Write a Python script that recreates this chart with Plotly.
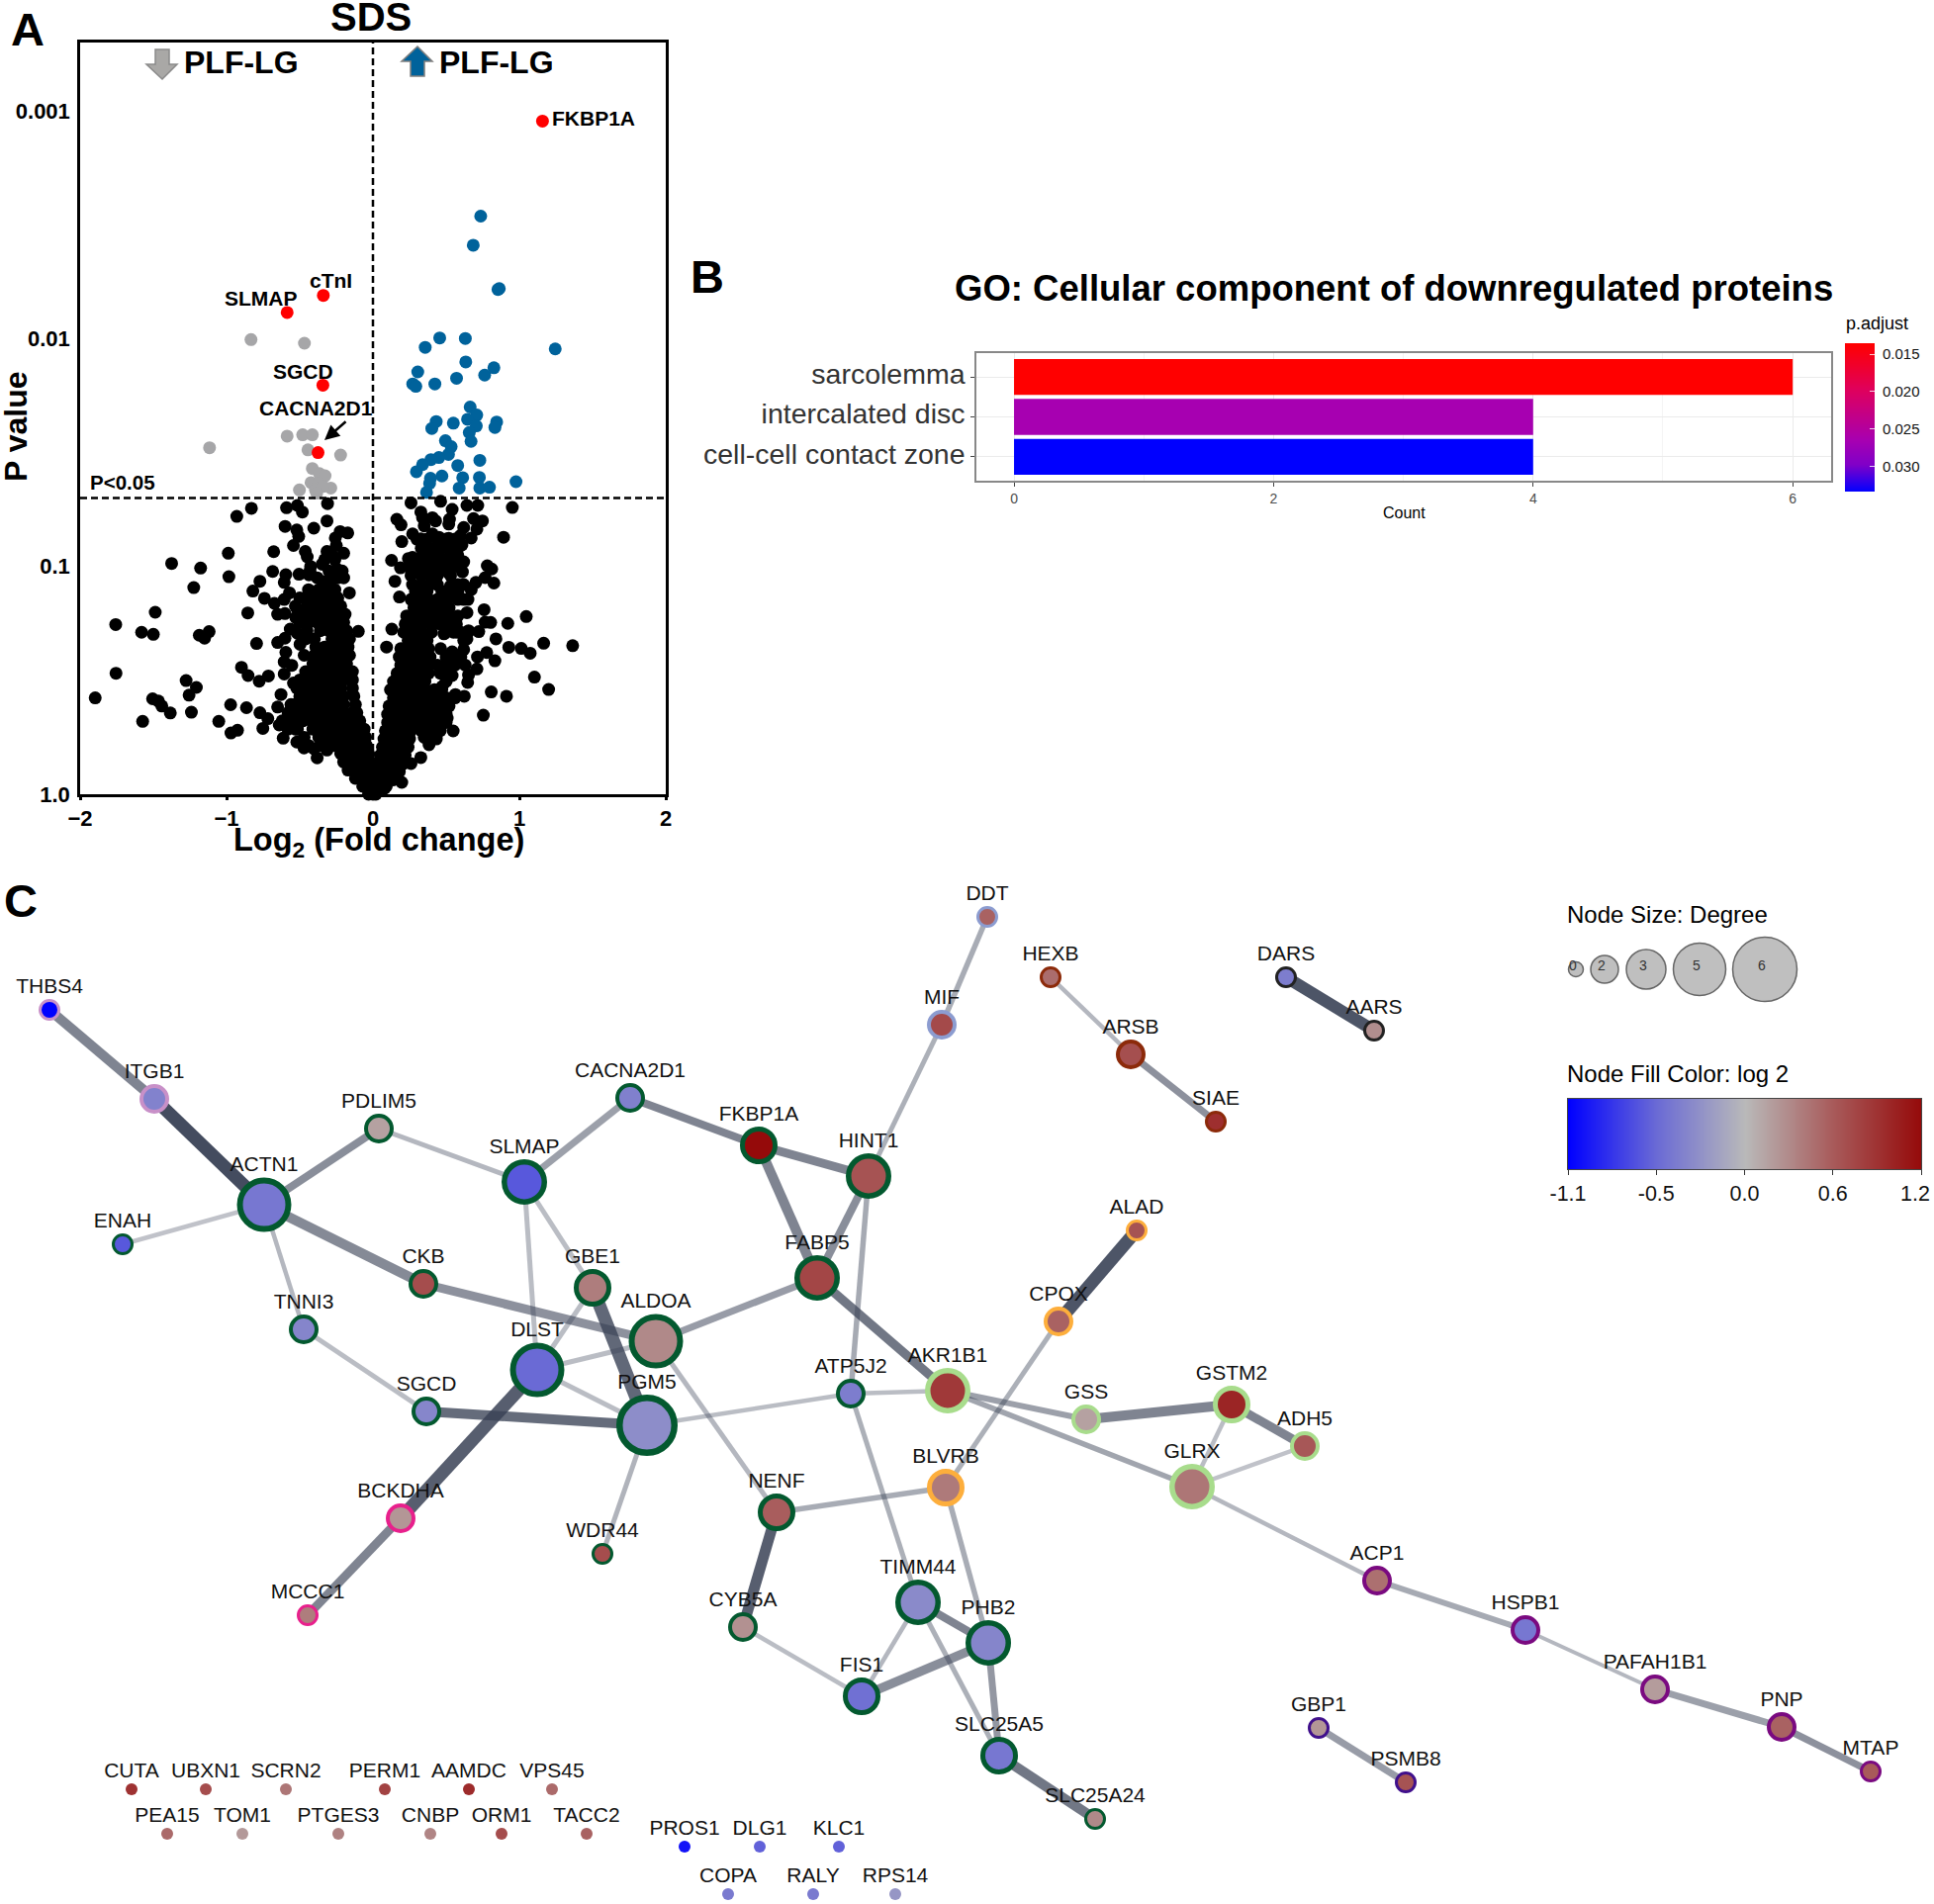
import plotly.graph_objects as go

W, H = 1955, 1925

# ---------- Panel A: volcano (log2 fold change, -log10 P) ----------
black_out_x = [-0.93,-0.83,-0.59,-0.516,-0.482,-0.31,-0.314,-0.404,-0.60,-0.52,-0.507,-0.543,-0.224,-0.172,-0.257,-0.25,-0.314,-0.28,-0.2,-0.462,-0.449,-0.678,-0.988,-1.375,-1.177,-0.984,-1.224,-0.685,-0.595,-0.606,-0.505,-0.437,-0.426,-0.347,-0.246,-0.772,-0.82,-0.57,-0.606,-0.741,-0.673,-0.161,-0.651,-0.601,-0.527,-0.516,-0.855,-1.487,-1.757,-1.58,-1.5,-1.186,-1.119,-1.15,-0.795,-0.651,-0.601,-0.565,-0.516,-0.498,-0.1,-0.595,-0.606,-0.554,-0.606,-0.898,-0.853,-0.777,-0.714,-1.755,-1.276,-1.206,-1.256,-1.897,-1.505,-1.465,-1.442,-1.384,-1.24,-1.573,-0.972,-0.864,-1.053,-0.97,-0.925,-0.752,-0.772,-0.718,-0.651,-0.628,-0.543,-0.64,-0.579,-0.613,-0.516,-0.52,-0.471,-0.404,-0.381,-0.314,
 0.26,0.462,0.541,0.642,0.716,0.952,0.327,0.163,0.192,0.339,0.406,0.428,0.523,0.518,0.35,0.687,0.748,0.71,0.62,0.671,0.597,0.892,0.197,0.271,0.327,0.406,0.451,0.518,0.608,0.496,0.428,0.35,0.327,0.242,0.127,0.188,0.264,0.327,0.489,0.485,0.514,0.579,0.586,0.62,0.611,0.399,0.428,0.15,0.781,0.811,0.766,0.826,0.703,0.671,0.649,0.579,0.53,0.181,0.759,0.642,1.047,0.766,0.804,0.921,0.723,0.653,0.642,0.84,0.575,0.485,0.129,0.093,0.928,1.013,1.074,1.166,1.364,0.833,0.777,0.714,0.71,0.62,0.541,0.541,0.462,0.653,0.647,0.541,1.103,1.2,0.808,0.912,0.624,0.563,0.473,0.754,0.548,0.507,0.433,0.383,0.35,0.327,0.26,0.197,0.091]
black_out_y = [1.22,1.255,1.258,1.268,1.239,1.276,1.2,1.168,1.176,1.16,1.132,1.092,1.153,1.147,1.125,1.092,1.066,1.049,1.058,1.066,1.042,1.065,1.058,1.013,0.993,0.955,0.907,0.978,0.964,0.93,0.966,0.963,1.0,1.01,0.989,0.935,0.892,0.884,0.855,0.86,0.838,0.884,0.79,0.793,0.776,0.812,0.796,0.799,0.745,0.711,0.702,0.698,0.714,0.685,0.662,0.666,0.685,0.725,0.707,0.658,0.715,0.623,0.581,0.566,0.528,0.557,0.521,0.496,0.519,0.531,0.499,0.469,0.435,0.423,0.419,0.409,0.387,0.357,0.36,0.32,0.393,0.38,0.32,0.269,0.281,0.289,0.358,0.332,0.383,0.438,0.488,0.304,0.33,0.246,0.286,0.229,0.203,0.2,0.16,0.194,
 1.279,1.286,1.25,1.268,1.268,1.259,1.239,1.207,1.183,1.214,1.214,1.2,1.207,1.186,1.178,1.21,1.2,1.164,1.171,1.125,1.135,1.128,1.109,1.143,1.121,1.143,1.128,1.124,1.095,1.085,1.07,1.063,1.027,1.035,1.027,0.994,0.974,1.0,1.027,0.999,0.974,1.049,1.013,1.02,0.976,0.977,0.948,0.935,1.003,0.989,0.951,0.927,0.93,0.898,0.855,0.912,0.915,0.866,0.81,0.797,0.78,0.755,0.754,0.75,0.714,0.718,0.682,0.682,0.711,0.704,0.725,0.646,0.645,0.64,0.619,0.663,0.652,0.586,0.622,0.603,0.55,0.635,0.625,0.596,0.639,0.524,0.491,0.521,0.514,0.46,0.449,0.43,0.43,0.438,0.473,0.347,0.278,0.334,0.243,0.217,0.25,0.161,0.135,0.052,0.035]

# dense core of the volcano, read row by row (-log10 P row : fold changes)
core_neg = {1.03:[-.33,-.26],0.98:[-.43,-.30,-.26,-.21],0.95:[-.38,-.24,-.20],0.934:[-.33,-.29],0.898:[-.44,-.37,-.31,-.26],0.862:[-.50,-.46,-.41,-.35,-.29,-.24],0.826:[-.53,-.45,-.39,-.33,-.27,-.22],
 0.79:[-.46,-.41,-.45,-.39,-.33,-.27,-.21,-.19],0.754:[-.50,-.44,-.38,-.32,-.26,-.20],0.718:[-.45,-.36,-.30,-.24,-.18],0.682:[-.46,-.40,-.28,-.22,-.16],
 0.646:[-.39,-.33,-.27,-.21,-.17],0.61:[-.47,-.40,-.34,-.28,-.22,-.16],0.574:[-.41,-.35,-.29,-.23,-.18],0.538:[-.46,-.43,-.37,-.31,-.25,-.19,-.14],
 0.502:[-.50,-.44,-.38,-.32,-.26,-.20,-.14],0.466:[-.52,-.46,-.40,-.34,-.28,-.22,-.14],0.43:[-.50,-.44,-.38,-.32,-.26,-.20,-.13],
 0.394:[-.56,-.53,-.50,-.44,-.38,-.32,-.26,-.20,-.12],0.358:[-.58,-.54,-.50,-.44,-.38,-.32,-.26,-.20,-.14,-.11],0.322:[-.62,-.54,-.48,-.42,-.36,-.30,-.24,-.18,-.12,-.09],
 0.286:[-.58,-.53,-.41,-.35,-.29,-.23,-.17,-.11,-.06],0.25:[-.47,-.37,-.31,-.25,-.19,-.13,-.07,-.05],0.214:[-.44,-.36,-.33,-.27,-.21,-.15,-.09,-.045],
 0.178:[-.22,-.16,-.10,-.05,-.03],0.142:[-.20,-.15,-.10,-.05,-.02],0.106:[-.17,-.12,-.07,-.02],0.07:[-.12,-.07,-.03],0.035:[-.07,-.03],0.0:[-.03,0.0]}
core_pos = {1.12:[.30,.37,.44,.50,.56],1.08:[.33,.39,.45,.52,.58],1.04:[.27,.33,.39,.46,.52],1.0:[.25,.31,.38,.44,.50,.55],0.96:[.26,.33,.39,.44,.53],0.92:[.27,.33,.39,.44,.58,.62],
 0.891:[.29,.34,.37,.47,.53,.58],0.855:[.26,.32,.38,.44,.51,.58,.62],0.819:[.28,.34,.40,.46,.52],0.783:[.23,.29,.35,.41,.47,.53,.58],
 0.747:[.22,.28,.34,.40,.46,.52,.57],0.711:[.21,.27,.33,.40,.50,.55,.60,.65],0.675:[.24,.30,.37,.62],0.639:[.19,.25,.31,.38],0.603:[.18,.24,.30,.36,.39,.50,.55,.60],
 0.567:[.19,.25,.31,.37,.44,.50,.56,.63],0.531:[.165,.22,.28,.34,.38,.46,.52],0.495:[.14,.20,.26,.32,.355,.50],0.459:[.12,.18,.24,.30,.36,.42,.47],
 0.423:[.14,.20,.26,.32,.38,.44,.50,.56],0.387:[.11,.17,.23,.29,.35,.41,.47,.52],0.351:[.10,.16,.22,.28,.34,.40,.46,.50],
 0.315:[.10,.16,.22,.28,.34,.39,.45,.50],0.279:[.085,.14,.20,.26,.33,.40,.46],0.243:[.075,.13,.19,.25],0.207:[.065,.12,.18,.24],0.171:[.05,.10,.16,.22],
 0.135:[.04,.09,.15,.21],0.099:[.03,.08,.13,.18],0.063:[.0,.04,.09,.14],0.027:[.0,.04,.08],0.0:[.02]}

blue_x = [0.736,0.685,0.854,0.863,0.456,0.631,0.357,1.245,0.634,0.306,0.826,0.763,0.571,0.423,0.272,0.293,0.664,0.709,0.646,0.432,0.549,0.845,0.833,0.706,0.402,0.658,0.495,0.67,0.534,0.516,0.45,0.396,0.73,0.339,0.579,0.297,0.471,0.393,0.613,0.727,0.977,0.387,0.589,0.73,0.796,0.366]
blue_y = [2.538,2.41,2.216,2.22,2.003,2.001,1.962,1.955,1.898,1.854,1.872,1.84,1.826,1.801,1.801,1.791,1.7,1.665,1.646,1.636,1.629,1.634,1.61,1.617,1.606,1.588,1.552,1.549,1.526,1.492,1.478,1.469,1.466,1.447,1.443,1.416,1.397,1.387,1.39,1.391,1.372,1.365,1.344,1.344,1.348,1.325]
gray_x = [-0.833,-0.468,-0.586,-0.48,-0.414,-1.116,-0.444,-0.221,-0.414,-0.366,-0.327,-0.423,-0.372,-0.288,-0.502,-0.393,-0.342,-0.384]
gray_y = [1.996,1.98,1.572,1.578,1.578,1.521,1.512,1.489,1.43,1.408,1.398,1.368,1.365,1.344,1.336,1.336,1.351,1.322]
red_names = ["FKBP1A","cTnI","SLMAP","SGCD","CACNA2D1"]
red_x = [1.158,-0.339,-0.586,-0.342,-0.375]
red_y = [2.955,2.19,2.115,1.796,1.50]
p_ticks = [0,1,2,3]
p_labels = ["1.0","0.1","0.01","0.001"]
fc_ticks = [-2,-1,0,1,2]
p_cut = 1.301

# ---------- Panel B: GO bars ----------
go_terms = ["cell-cell contact zone","intercalated disc","sarcolemma"]
go_count = [4,4,6]
go_padj = [0.0333,0.0265,0.01355]
padj_levels = [0.01355,0.01849,0.02343,0.02836,0.0333]
padj_ticks = [0.015,0.020,0.025,0.030]
padj_labels = ["0.015","0.020","0.025","0.030"]

# ---------- Panel C: network (layout coordinates) ----------
node_name = ["THBS4","ITGB1","ACTN1","ENAH","PDLIM5","TNNI3","SLMAP","CKB","CACNA2D1","FKBP1A","HINT1","FABP5","GBE1","ALDOA","DLST","SGCD","PGM5","ATP5J2","AKR1B1","CPOX","ALAD","GSS","GSTM2","ADH5","GLRX","BLVRB","NENF","WDR44","BCKDHA","MCCC1","CYB5A","TIMM44","PHB2","FIS1","SLC25A5","SLC25A24","ACP1","HSPB1","PAFAH1B1","PNP","MTAP","GBP1","PSMB8","DDT","MIF","HEXB","ARSB","SIAE","DARS","AARS",
 "CUTA","UBXN1","SCRN2","PERM1","AAMDC","VPS45","PEA15","TOM1","PTGES3","CNBP","ORM1","TACC2","PROS1","DLG1","KLC1","COPA","RALY","RPS14"]
node_x = [50,156,267,124,383,307,530,428,637,767,878,826,599,663,543,431,654,860,958,1070,1149,1098,1245,1319,1205,956,785,609,405,311,751,928,999,871,1010,1107,1392,1542,1673,1801,1891,1333,1421,998,952,1062,1143,1229,1300,1389,
 133,208,289,389,474,558,169,245,342,435,507,593,692,768,848,736,822,905]
node_y = [1021,1111,1218,1258,1141,1344,1195,1298,1110,1158,1189,1292,1302,1356,1385,1427,1441,1409,1406,1336,1244,1435,1420,1462,1503,1504,1529,1571,1535,1633,1645,1620,1661,1715,1775,1839,1598,1648,1708,1746,1791,1747,1802,927,1036,988,1066,1134,988,1042,
 1809,1809,1809,1809,1809,1809,1854,1854,1854,1854,1854,1854,1867,1867,1867,1915,1915,1915]
node_log2 = [-1.1,-.35,-.42,-.6,.15,-.33,-.6,.7,-.36,1.2,.65,.75,.38,.3,-.5,-.32,-.28,-.38,.85,.55,.65,.15,1.0,.62,.42,.4,.58,.7,.22,.38,.25,-.3,-.33,-.46,-.42,.3,.46,-.42,.18,.55,.6,.22,.65,.55,.72,.48,.68,.92,-.38,.27,
 .9,.7,.42,.78,.95,.5,.5,.2,.35,.33,.7,.55,-1.0,-.55,-.55,-.4,-.4,-.22]
node_degree = [1,2,5,1,2,2,4,2,2,3,4,4,3,5,5,2,6,2,4,2,1,2,3,2,4,3,3,1,2,1,2,4,4,3,3,1,2,2,2,2,1,1,1,1,2,1,2,1,1,1]+[0]*18
node_cluster = ["pink","pink","green","green","green","green","green","green","green","green","green","green","green","green","green","green","green","green","lime","orange","orange","lime","lime","lime","lime","orange","green","green","magenta","magenta","green","green","green","green","green","green","purple","purple","purple","purple","purple","indigo","indigo","periw","periw","brown","brown","brown","ink","ink"]+["none"]*18

edge_a = ["THBS4","ITGB1","ACTN1","ACTN1","PDLIM5","ACTN1","ACTN1","CKB","TNNI3","SGCD","DLST","BCKDHA","SLMAP","SLMAP","SLMAP","GBE1","GBE1","DLST","DLST","PGM5","CACNA2D1","FKBP1A","FKBP1A","HINT1","HINT1","HINT1","MIF","FABP5","FABP5","ALDOA","PGM5","ATP5J2","ATP5J2","AKR1B1","AKR1B1","GSS","GSTM2","GSTM2","ADH5","GLRX","ACP1","HSPB1","PAFAH1B1","PNP","GBP1","HEXB","ARSB","DARS","ALAD","CPOX","BLVRB","BLVRB","NENF","CYB5A","TIMM44","TIMM44","TIMM44","FIS1","PHB2","SLC25A5"]
edge_b = ["ITGB1","ACTN1","PDLIM5","ENAH","SLMAP","TNNI3","CKB","ALDOA","SGCD","PGM5","BCKDHA","MCCC1","CACNA2D1","DLST","GBE1","DLST","PGM5","PGM5","ALDOA","WDR44","FKBP1A","HINT1","FABP5","FABP5","ATP5J2","MIF","DDT","ALDOA","AKR1B1","NENF","ATP5J2","AKR1B1","TIMM44","GSS","GLRX","GSTM2","ADH5","GLRX","GLRX","ACP1","HSPB1","PAFAH1B1","PNP","MTAP","PSMB8","ARSB","SIAE","AARS","CPOX","BLVRB","NENF","PHB2","CYB5A","FIS1","FIS1","PHB2","SLC25A5","PHB2","SLC25A5","SLC25A24"]
edge_width = [10,13,8,4.5,5,4.5,10,9,5,10,13,9,7,5,5,5,13,5,5,5,8,9,10,8,5.5,5,5.5,7,9,5,4.5,4.5,5,6,5.5,10,9,4.5,4.5,4.5,6,4,7,7,7,4.5,7,12,13,5,5.5,5.5,11,4.5,4.5,8,5,9,7,10]
edge_alpha = [.65,.95,.6,.32,.38,.38,.62,.58,.35,.78,.85,.65,.5,.35,.35,.35,.8,.35,.35,.4,.65,.65,.65,.6,.45,.42,.44,.52,.72,.38,.35,.35,.42,.5,.48,.65,.65,.35,.32,.38,.45,.38,.5,.58,.52,.38,.58,.9,.9,.42,.44,.44,.85,.35,.38,.65,.42,.6,.55,.72]

legend_degree = [0,2,3,5,6]
legend_diam = [15,28,40,53,65]
legend_x = [1593,1622,1664,1718,1784]
log2_ticks = [-1.1,-0.5,0.0,0.6,1.2]
log2_pos = [0,1,2,3,4]

# ---------- styles ----------
LIB = "Liberation Sans"
BORDER = dict(pink="#c890c8", green="#03592f", lime="#a8dc8c", orange="#fdae3c", magenta="#e8208c", purple="#7a0a80",
              indigo="#40108c", periw="#8c9cd0", brown="#8c2a0a", ink="#222222", none="rgba(0,0,0,0)")
DIAM = {0:12, 1:22, 2:30, 3:38, 4:46, 5:55, 6:62}
RING = {0:0, 1:3, 2:4, 3:5, 4:5.5, 5:6, 6:6.5}
LOG2_SCALE = [[0,"#0000ff"],[0.261,"#6a6ad5"],[0.478,"#b9b9b9"],[0.739,"#a85a5a"],[1,"#950a0a"]]
PADJ_SCALE = [[0,"#ff0000"],[0.3,"#e0005a"],[0.65,"#a800b0"],[0.82,"#8000c8"],[1,"#0000ff"]]

fig = go.Figure()
def dx(a, b): return [a/W, b/W]
def dy(top, bottom): return [1-bottom/H, 1-top/H]

# --- A ---
bx = list(black_out_x); by = list(black_out_y)
for rows in (core_neg, core_pos):
    for yy, xs in rows.items():
        bx += xs; by += [yy]*len(xs)
for xs, ys, c in ((bx,by,"#000000"),(blue_x,blue_y,"#00629b"),(gray_x,gray_y,"#a6a6a8"),(red_x,red_y,"#ff0000")):
    fig.add_trace(go.Scatter(x=xs, y=ys, mode="markers", xaxis="x", yaxis="y", cliponaxis=False,
                             marker=dict(size=13, color=c, line=dict(width=0)), hoverinfo="skip"))

# --- B ---
fig.add_trace(go.Bar(y=go_terms, x=go_count, orientation="h", xaxis="x2", yaxis="y2", width=0.9,
                     marker=dict(color=go_padj, colorscale=PADJ_SCALE, cmin=padj_levels[0], cmax=padj_levels[-1], line=dict(width=0)),
                     hoverinfo="skip"))
fig.add_trace(go.Heatmap(x=[0,1], y=padj_levels, z=[[v,v] for v in padj_levels], zsmooth="best", xaxis="x4", yaxis="y4",
                         colorscale=PADJ_SCALE, zmin=padj_levels[0], zmax=padj_levels[-1], showscale=False, hoverinfo="skip"))

# --- C edges ---
idx = {n:i for i,n in enumerate(node_name)}
for a,b,wd,al in zip(edge_a, edge_b, edge_width, edge_alpha):
    i,j = idx[a], idx[b]
    fig.add_trace(go.Scatter(x=[node_x[i],node_x[j]], y=[node_y[i],node_y[j]], mode="lines", xaxis="x3", yaxis="y3",
                             line=dict(width=wd, color=f"rgba(58,66,86,{al})"), hoverinfo="skip"))
# --- C nodes ---
fig.add_trace(go.Scatter(x=node_x, y=node_y, mode="markers", xaxis="x3", yaxis="y3", hoverinfo="skip",
    marker=dict(size=[DIAM[d]-RING[d] for d in node_degree], color=node_log2, colorscale=LOG2_SCALE, cmin=-1.1, cmax=1.2, opacity=1,
                line=dict(width=[RING[d] for d in node_degree], color=[BORDER[c] for c in node_cluster]))))
fig.add_trace(go.Scatter(x=node_x, y=[y-(DIAM[d]/2+11.5) for y,d in zip(node_y,node_degree)], text=node_name, mode="text",
    xaxis="x3", yaxis="y3", textposition="middle center", textfont=dict(family=LIB, size=21, color="#111111"), hoverinfo="skip"))
# size legend
fig.add_trace(go.Scatter(x=legend_x, y=[980]*5, mode="markers", xaxis="x3", yaxis="y3", hoverinfo="skip",
    marker=dict(size=legend_diam, color="#bfbfbf", opacity=1, line=dict(width=1.5, color="#666666"))))
fig.add_trace(go.Scatter(x=[v-3 for v in legend_x], y=[977]*5, text=[str(d) for d in legend_degree], mode="text", xaxis="x3", yaxis="y3",
    textfont=dict(family=LIB, size=14, color="#333333"), hoverinfo="skip"))
# colour legend
fig.add_trace(go.Heatmap(x=log2_pos, y=[0,1], z=[log2_ticks, log2_ticks], zsmooth="best", xaxis="x5", yaxis="y5",
    colorscale=LOG2_SCALE, zmin=-1.1, zmax=1.2, showscale=False, hoverinfo="skip"))

def txt(x, y, s, size, bold=True, anchor="center", angle=0, color="#000000"):
    return dict(x=x, y=y, xref="x3", yref="y3", text=f"<b>{s}</b>" if bold else s, showarrow=False, xanchor=anchor, yanchor="middle",
                textangle=angle, font=dict(family=LIB, size=size, color=color))
ann = [
    txt(9,29,"A",47,anchor="left"), txt(696,279,"B",47,anchor="left"), txt(2,910,"C",47,anchor="left"),
    txt(375,17,"SDS",40),
    txt(184,63,"PLF-LG",32,anchor="left"), txt(442,63,"PLF-LG",32,anchor="left"),
    txt(89,487,"P&lt;0.05",20.5,anchor="left"),
    txt(556,119,"FKBP1A",21,anchor="left"), txt(334,283,"cTnI",21), txt(264,301,"SLMAP",21), txt(306,375,"SGCD",21), txt(319,412,"CACNA2D1",21),
    txt(383,851,"Log<sub>2</sub> (Fold change)",32.5),
    txt(16,432,"P value",32,angle=-90),
    txt(1409,291,"GO: Cellular component of downregulated proteins",36.5),
    txt(1419,518,"Count",16,bold=False),
    txt(1864,327,"p.adjust",18,bold=False,anchor="left"),
    txt(1582,924,"Node Size: Degree",24,bold=False,anchor="left"),
    txt(1582,1085,"Node Fill Color: log 2",24,bold=False,anchor="left"),
    txt(1936,1207,"1.2",21.5,bold=False,color="#111"),
    dict(x=328,y=445,ax=351,ay=425,xref="x3",yref="y3",axref="x3",ayref="y3",text="",showarrow=True,arrowhead=2,arrowsize=1.2,arrowwidth=2.5,arrowcolor="#000000"),
]
shapes = [
    dict(type="line",xref="x",yref="y",x0=0,x1=0,y0=0,y1=3.30,layer="below",line=dict(color="#000",width=2.5,dash="7px,4px")),
    dict(type="line",xref="x",yref="y",x0=-2,x1=2,y0=p_cut,y1=p_cut,layer="above",line=dict(color="#000",width=2.5,dash="7px,4px")),
    dict(type="path",xref="x3",yref="y3",path="M157,50 L171,50 L171,65 L179,65 L164,80 L148,65 L157,65 Z",fillcolor="#a9a8a6",line=dict(color="#8a8a8a",width=1.5)),
    dict(type="path",xref="x3",yref="y3",path="M415,77 L429,77 L429,62 L437,62 L422,47 L406,62 L415,62 Z",fillcolor="#00629b",line=dict(color="#7f7f7f",width=1.5)),
]
fig.update_layout(
    width=W, height=H, margin=dict(l=0,r=0,t=0,b=0,autoexpand=False), paper_bgcolor="white", plot_bgcolor="rgba(0,0,0,0)",
    showlegend=False, bargap=0.1, annotations=ann, shapes=shapes,
    xaxis=dict(domain=dx(81,673), range=[-2,2], tickvals=fc_ticks, ticks="outside", ticklen=3, tickwidth=2.5, tickcolor="#000",
               showline=True, linewidth=2.5, linecolor="#000", mirror=True, showgrid=False, zeroline=False,
               tickfont=dict(family=LIB,size=22,weight=700,color="#000"), anchor="y"),
    yaxis=dict(domain=dy(43,803), range=[0,3.30], tickvals=p_ticks, ticktext=p_labels, ticks="outside", ticklen=3, tickcolor="rgba(0,0,0,0)", showline=True, linewidth=2.5,
               linecolor="#000", mirror=True, showgrid=False, zeroline=False, tickfont=dict(family=LIB,size=22,weight=700,color="#000"), anchor="x"),
    xaxis2=dict(domain=dx(987,1851), range=[-0.29,6.296], tickvals=[0,2,4,6], ticks="outside", ticklen=4, tickcolor="#444",
                showline=True, linewidth=1.5, linecolor="#888", mirror=True, gridcolor="#ebebeb", zeroline=False,
                minor=dict(tickvals=[1,3,5], showgrid=True, gridcolor="#f4f4f4", ticks=""),
                tickfont=dict(family=LIB,size=14,color="#4d4d4d"), anchor="y2"),
    yaxis2=dict(domain=dy(357,486), type="category", categoryorder="array", categoryarray=go_terms, range=[-0.6,2.6],
                ticks="outside", ticklen=4, tickcolor="#444", showline=True, linewidth=1.5, linecolor="#888", mirror=True, gridcolor="#ebebeb",
                ticklabelshift=-3, tickfont=dict(family=LIB,size=28.5,color="#333333"), anchor="x2"),
    xaxis3=dict(domain=[0,1], range=[0,W], visible=False, anchor="y3"),
    yaxis3=dict(domain=[0,1], range=[H,0], visible=False, anchor="x3"),
    xaxis4=dict(domain=dx(1865,1895), range=[0,1], visible=False, anchor="y4"),
    yaxis4=dict(domain=dy(347,497), range=[padj_levels[-1],padj_levels[0]], side="right", tickvals=padj_ticks, ticktext=padj_labels,
                ticks="inside", ticklen=5, tickcolor="rgba(255,255,255,0.8)", ticklabelstandoff=7, showgrid=False, zeroline=False, showline=False,
                tickfont=dict(family=LIB,size=15,color="#111"), anchor="x4"),
    xaxis5=dict(domain=dx(1585,1942), range=[0,4], tickvals=log2_pos, ticktext=[f"{v:.1f}" for v in log2_ticks[:-1]]+[""], ticks="outside", ticklen=5,
                tickcolor="#333", showline=True, linecolor="#444", linewidth=1, mirror=True, showgrid=False, zeroline=False,
                tickfont=dict(family=LIB,size=21.5,color="#111"), anchor="y5"),
    yaxis5=dict(domain=dy(1111,1182), range=[0,1], showticklabels=False, ticks="", showline=True, linecolor="#444", linewidth=1, mirror=True,
                showgrid=False, zeroline=False, anchor="x5"),
)
fig.write_html("out.html", post_script="document.body.style.margin='0';", config={"displayModeBar": False})
